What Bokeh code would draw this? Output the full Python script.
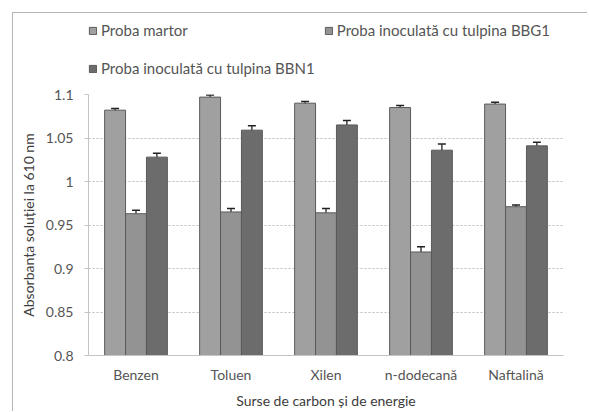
from bokeh.plotting import figure
from bokeh.layouts import column
from bokeh.models import (ColumnDataSource, FactorRange, Legend, LegendItem, Whisker,
                          FixedTicker, CustomJSTickFormatter, TeeHead, Range1d)
from bokeh.transform import dodge
from bokeh.embed import file_html
from bokeh.resources import INLINE

categories = ["Benzen", "Toluen", "Xilen", "n-dodecană", "Naftalină"]
series_names = ["Proba martor", "Proba inoculată cu tulpina BBG1", "Proba inoculată cu tulpina BBN1"]
martor = [1.082, 1.097, 1.090, 1.085, 1.089]
martor_err = [0.002, 0.0025, 0.002, 0.0025, 0.002]
bbg1 = [0.963, 0.965, 0.964, 0.919, 0.971]
bbg1_err = [0.004, 0.004, 0.005, 0.006, 0.002]
bbn1 = [1.028, 1.059, 1.065, 1.036, 1.041]
bbn1_err = [0.0045, 0.005, 0.005, 0.007, 0.004]
y_ticks = [0.8, 0.85, 0.9, 0.95, 1.0, 1.05, 1.1]

FONT = "Lato"
colors = ["#a0a0a0", "#939393", "#6c6c6c"]
offsets = [-0.22, 0.0, 0.22]
values = [martor, bbg1, bbn1]
errors = [martor_err, bbg1_err, bbn1_err]
sources = [ColumnDataSource(dict(cat=categories, val=vals,
                                 upper=[v + e for v, e in zip(vals, errs)],
                                 lower=[v - e for v, e in zip(vals, errs)]))
           for vals, errs in zip(values, errors)]

W = 574

# ---- legend strip (top) ----
lp = figure(width=W, height=73, output_backend="svg", toolbar_location=None,
            x_range=FactorRange(*categories), y_range=Range1d(0.8, 1.1),
            x_axis_location=None, y_axis_location=None,
            min_border_left=75, min_border_right=24, min_border_top=0, min_border_bottom=0)
lp.grid.visible = False
lp.outline_line_color = None
leg_r = [lp.vbar(x="cat", top="val", bottom=0.8, width=0.22, source=s, fill_color=c,
                 line_color="#5a5a5a", visible=False)
         for s, c in zip(sources, colors)]

leg1 = Legend(items=[LegendItem(label=series_names[0], renderers=[leg_r[0]]),
                     LegendItem(label=series_names[1], renderers=[leg_r[1]])],
              orientation="horizontal", location=(0, 46), spacing=136)
leg2 = Legend(items=[LegendItem(label=series_names[2], renderers=[leg_r[2]])],
              orientation="horizontal", location=(0, 8))
for lg in (leg1, leg2):
    lg.label_text_font = FONT
    lg.label_text_font_size = "15px"
    lg.label_text_color = "#555555"
    lg.glyph_width = 9
    lg.glyph_height = 9
    lg.label_standoff = 4
    lg.label_height = 20
    lg.padding = 0
    lg.margin = 0
    lg.border_line_color = None
    lg.background_fill_alpha = 0
    lg.inactive_fill_alpha = 0
    lg.click_policy = "none"
    lp.add_layout(lg)

# ---- main chart ----
p = figure(x_range=FactorRange(*categories), y_range=Range1d(0.8, 1.1),
           width=W, height=325, output_backend="svg", toolbar_location=None,
           min_border_left=75, min_border_right=24, min_border_top=8, min_border_bottom=54)

for src, off, col in zip(sources, offsets, colors):
    p.vbar(x=dodge("cat", off, range=p.x_range), top="val", bottom=0.8, width=0.22,
           source=src, fill_color=col, line_color="#5a5a5a", line_width=1)
    w = Whisker(source=src, base=dodge("cat", off, range=p.x_range), upper="upper", lower="lower",
                line_color="#222222", line_width=1.3,
                upper_head=TeeHead(size=8, line_color="#222222", line_width=1.5),
                lower_head=TeeHead(size=8, line_color="#222222", line_width=1.5))
    p.add_layout(w)

p.yaxis.ticker = FixedTicker(ticks=y_ticks)
p.yaxis.formatter = CustomJSTickFormatter(code="return parseFloat(tick.toFixed(2)).toString();")
p.yaxis.axis_label = "Absorbanța soluției la 610 nm"
p.xaxis.axis_label = "Surse de carbon și de energie"
for ax in (p.xaxis, p.yaxis):
    ax.axis_label_text_font = FONT
    ax.axis_label_text_font_size = "14px"
    ax.axis_label_text_font_style = "normal"
    ax.axis_label_text_color = "#3c3c3c"
    ax.major_label_text_font = FONT
    ax.major_label_text_font_size = "14px"
    ax.major_label_text_color = "#555555"
    ax.axis_line_color = "#c4c4c4"
    ax.minor_tick_line_color = None
p.yaxis.major_tick_out = 4
p.yaxis.major_tick_in = 0
p.yaxis.major_tick_line_color = "#c4c4c4"
p.yaxis.major_label_standoff = 11
p.yaxis.axis_label_standoff = 6
p.xaxis.major_tick_line_color = None
p.xaxis.major_tick_out = 0
p.xaxis.major_tick_in = 0
p.xaxis.major_label_standoff = 10
p.xaxis.axis_label_standoff = 6

p.xgrid.grid_line_color = None
p.ygrid.grid_line_color = "#bdbdbd"
p.ygrid.grid_line_dash = "2 2"
p.outline_line_color = None

layout = column(lp, p, spacing=0, margin=(12, 0, 0, 12),
                styles={"border-left": "1px solid #b4b4b4", "border-top": "1px solid #b4b4b4"})
open("out.html", "w").write(file_html(layout, INLINE))
